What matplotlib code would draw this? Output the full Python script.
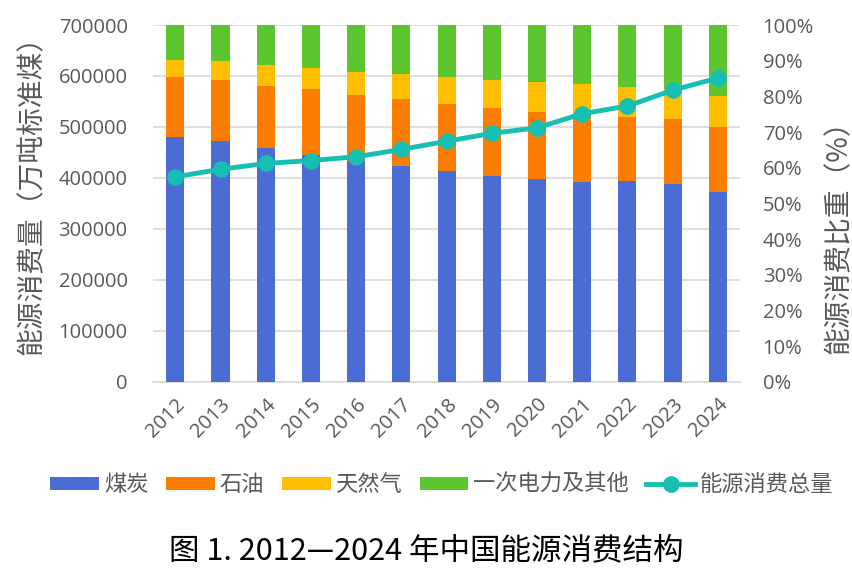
import numpy as np
import matplotlib.pyplot as plt

plt.rcParams['font.family'] = ['Open Sans', 'Noto Sans CJK SC', 'DejaVu Sans']

years = ['2012', '2013', '2014', '2015', '2016', '2017', '2018',
         '2019', '2020', '2021', '2022', '2023', '2024']
# share of total energy consumption (%)
coal = [68.5, 67.4, 65.6, 63.7, 62.0, 60.4, 59.0, 57.7, 56.9, 56.0, 56.2, 55.3, 53.2]
oil = [17.0, 17.1, 17.4, 18.3, 18.5, 18.8, 18.9, 19.0, 18.8, 18.5, 17.9, 18.3, 18.1]
gas = [4.8, 5.3, 5.7, 5.9, 6.2, 7.0, 7.6, 8.0, 8.4, 8.9, 8.4, 8.5, 8.8]
other = [9.7, 10.2, 11.3, 12.1, 13.3, 13.8, 14.5, 15.3, 15.9, 16.6, 17.5, 17.9, 19.9]
# total energy consumption (10k tce)
total = [402138, 416913, 428334, 434113, 441492, 455827, 471925,
         487488, 498314, 525896, 541000, 572000, 596000]

c_coal = '#4A6CD4'
c_oil = '#FA7D00'
c_gas = '#FFBF00'
c_other = '#5CC530'
c_line = '#16BFB2'
txt = '#595959'
cjk = ['Noto Sans CJK SC', 'DejaVu Sans']

fig = plt.figure(figsize=(8.53, 5.75), dpi=100)
ax = fig.add_axes([0.179, 0.336, 0.689, 0.6205])
ax2 = ax.twinx()
ax3 = ax.twinx()

x = np.arange(len(years))
w = 0.4

# left axis: grid + ticks
ax.set_ylim(0, 700000)
ax.set_yticks(np.arange(0, 700001, 100000))
ax.grid(axis='y', color='#d9d9d9', lw=1.2)
ax.set_axisbelow(True)
ax.set_xlim(-0.5, len(years) - 0.5)
ax.set_xticks(x)
ax.set_xticklabels(years, rotation=45, ha='right', rotation_mode='anchor')
ax.tick_params(axis='y', length=0, labelsize=14.5, colors=txt, pad=18)
ax.tick_params(axis='x', length=0, labelsize=14.5, colors=txt, pad=9)
for s in ['top', 'left', 'right']:
    ax.spines[s].set_visible(False)
ax.spines['bottom'].set_color('#d9d9d9')
ax.spines['bottom'].set_linewidth(1.2)
ax.set_ylabel('能源消费量（万吨标准煤）', fontsize=20, color=txt, family=cjk)
ax.yaxis.set_label_coords(-0.181, 0.543)

# right axis: 100% stacked bars
b1 = ax2.bar(x, coal, w, color=c_coal, label='煤炭')
bot = np.array(coal)
b2 = ax2.bar(x, oil, w, bottom=bot, color=c_oil, label='石油')
bot = bot + np.array(oil)
b3 = ax2.bar(x, gas, w, bottom=bot, color=c_gas, label='天然气')
bot = bot + np.array(gas)
b4 = ax2.bar(x, other, w, bottom=bot, color=c_other, label='一次电力及其他')
ax2.set_ylim(0, 100)
ax2.set_yticks(np.arange(0, 101, 10))
ax2.set_yticklabels([f'{v}%' for v in range(0, 101, 10)])
ax2.tick_params(axis='y', length=0, labelsize=14.5, colors=txt, pad=16)
for s in ax2.spines.values():
    s.set_visible(False)
ax2.set_ylabel('能源消费比重（%）', fontsize=20, color=txt, family=cjk)
ax2.yaxis.set_label_coords(1.141, 0.426)

# total consumption line on left scale
ax3.set_ylim(0, 700000)
l1, = ax3.plot(x, total, color=c_line, lw=3.5, marker='o', ms=11, label='能源消费总量')
ax3.set_yticks([])
for s in ax3.spines.values():
    s.set_visible(False)

fig.legend(handles=[b1, b2, b3, b4, l1], loc='center', bbox_to_anchor=(0.518, 0.157),
           ncol=5, frameon=False, handlelength=2.2, handleheight=0.5,
           handletextpad=0.2, columnspacing=0.8, labelcolor=txt,
           prop={'family': cjk, 'size': 16})

fig.text(0.5, 0.043, '图 1. 2012—2024 年中国能源消费结构', ha='center', va='center',
         fontsize=22, color='black', family=cjk)

fig.savefig('out.png', dpi=100)
